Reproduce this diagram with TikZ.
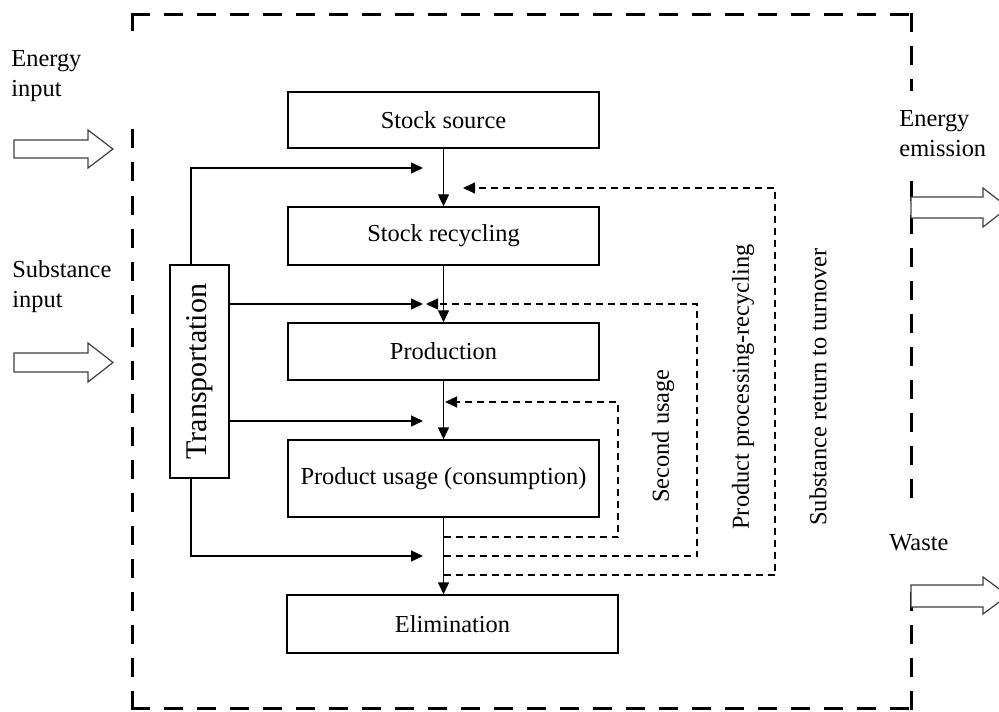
\documentclass[tikz,border=0pt]{standalone}
\usepackage{fontspec}
\setmainfont{Liberation Serif}
\usetikzlibrary{arrows.meta}
\begin{document}
\begin{tikzpicture}[x=0.5pt,y=-0.5pt,
  every node/.style={font=\fontsize{12.2}{15}\selectfont, inner sep=0pt},
  box/.style={draw, line width=0.7pt, minimum width=155.5pt},
  arr/.style={line width=0.7pt, -{Triangle[length=6pt,width=5.5pt]}},
  darr/.style={line width=0.6pt, dash pattern=on 3.5pt off 2.5pt, -{Triangle[length=6pt,width=5.5pt]}},
  bord/.style={line width=1.5pt, line cap=rect, dash pattern=on 8pt off 8.5pt},
  blk/.style={draw=black!75, line width=0.6pt, fill=white},
  lbl/.style={anchor=base west, align=left}
]
\useasboundingbox (0,0) rectangle (999,711);
\clip (0,0) rectangle (999,711);

% outer dashed boundary
\draw[bord] (132,15) -- (911,15);
\draw[bord] (132,15) -- (132,30);
\draw[bord] (132,708) -- (132,118);
\draw[bord] (132,708) -- (911,708);
\draw[bord] (911,15) -- (911,90);
\draw[bord] (911,183) -- (911,510);
\draw[bord] (911,708) -- (911,588);

% boxes
\node[box, minimum height=28pt] (ss) at (443.5,120) {Stock source};
\node[box, minimum height=29pt] (sr) at (443.5,236) {Stock recycling};
\node[box, minimum height=28.5pt] (pr) at (443.5,351.5) {Production};
\node[box, minimum height=38.5pt] (pu) at (443.5,478.5) {Product usage (consumption)};
\node[box, minimum width=165.5pt, minimum height=29pt] (el) at (452.5,624) {Elimination};
\node[draw, line width=0.7pt, minimum width=29.5pt, minimum height=106.5pt] (tr) at (199.5,371.5) {};
\node[rotate=90, font=\fontsize{15}{17}\selectfont] (trl) at (tr.center) {Transportation};

% main flow
\draw[arr] (ss.south) -- (sr.north);
\draw[arr] (sr.south) -- (pr.north);
\draw[arr] (pr.south) -- (pu.north);
\draw[arr] (pu.south) -- (pu.south |- el.north);

% transportation feeds
\coordinate (ta) at (423,168);
\coordinate (tb) at (423,304);
\coordinate (tc) at (423,421);
\coordinate (td) at (423,556);
\draw[arr] ([xshift=-4.25pt]tr.north) |- (ta);
\draw[arr] (tr.east |- tb) -- (tb);
\draw[arr] (tr.east |- tc) -- (tc);
\draw[arr] ([xshift=-4.25pt]tr.south) |- (td);

% dashed feedback loops
\coordinate (su0) at (443.5,537);
\coordinate (su1) at (618,402);
\coordinate (suT) at (445,402);
\draw[darr] (su0) -| (su1) -- (suT);
\coordinate (pp0) at (443.5,556);
\coordinate (pp1) at (697,304);
\coordinate (ppT) at (426,304);
\draw[darr] (pp0) -| (pp1) -- (ppT);
\coordinate (st0) at (443.5,575);
\coordinate (st1) at (775,188);
\coordinate (stT) at (463,188);
\draw[darr] (st0) -| (st1) -- (stT);

% loop labels
\node[rotate=90] (lsu) at (663,436) {Second usage};
\node[rotate=90] (lpp) at (743,387) {Product processing-recycling};
\node[rotate=90] (lst) at (818,387) {Substance return to turnover};

% external labels
\node[lbl] (ein) at (11,97) {Energy\\input};
\node[lbl] (sin) at (12,307) {Substance\\input};
\node[lbl] (eem) at (899,157) {Energy\\emission};
\node[lbl] (wst) at (889,550) {Waste};

% block arrows
\draw[blk] (14,140) -- (88,140) -- (88,130) -- (113,149) -- (88,168) -- (88,158) -- (14,158) -- cycle;
\draw[blk] (14,353) -- (88,353) -- (88,343) -- (113,362.5) -- (88,382) -- (88,372) -- (14,372) -- cycle;
\draw[blk] (911,197) -- (983,197) -- (983,188) -- (1008,207.5) -- (983,227) -- (983,218) -- (911,218) -- cycle;
\draw[blk] (911,585) -- (983,585) -- (983,577) -- (1008,595.5) -- (983,614) -- (983,607) -- (911,607) -- cycle;
\end{tikzpicture}
\end{document}
